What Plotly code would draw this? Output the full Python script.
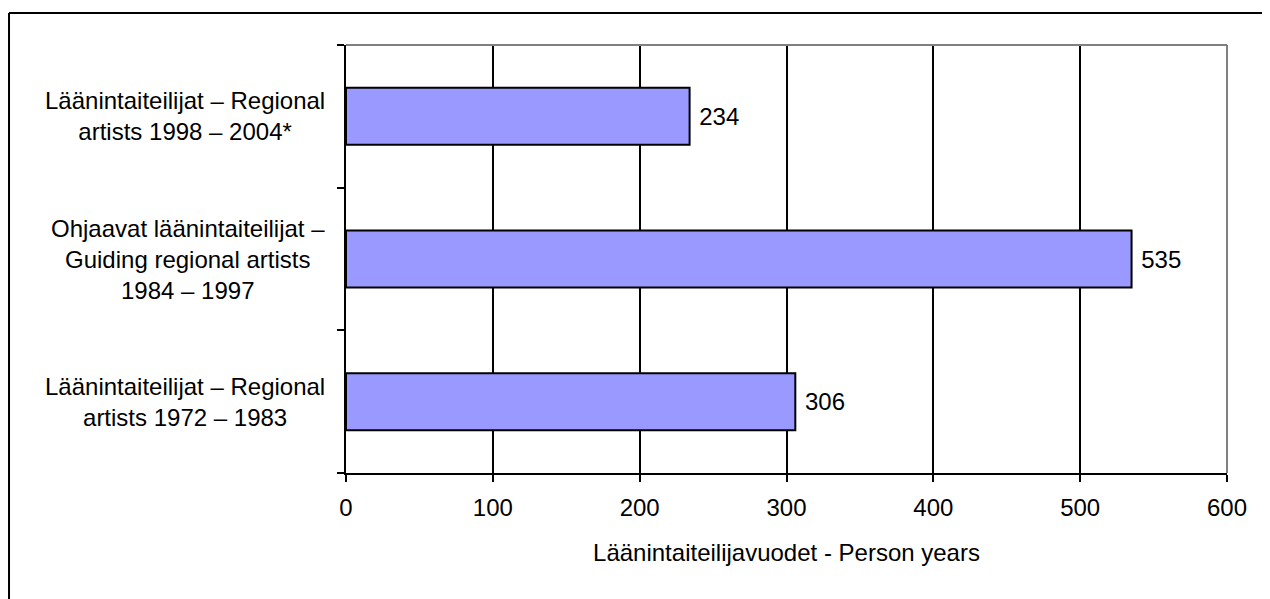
import plotly.graph_objects as go

# Kategoriat alhaalta ylös
kaudet = [
    "Läänintaiteilijat – Regional<br>artists 1972 – 1983",
    "Ohjaavat läänintaiteilijat –<br>Guiding regional artists<br>1984 – 1997",
    "Läänintaiteilijat – Regional<br>artists 1998 – 2004*",
]
henkilovuodet = [306, 535, 234]
x_ticks = [0, 100, 200, 300, 400, 500, 600]

FONT = "Liberation Sans, Arial, sans-serif"
KOKO = 24

fig = go.Figure()

fig.add_trace(go.Bar(
    x=henkilovuodet,
    y=kaudet,
    orientation='h',
    width=0.4,
    marker=dict(color='#9999FF', line=dict(color='black', width=2)),
    text=[f' {v}' for v in henkilovuodet],
    textposition='outside',
    textfont=dict(family=FONT, size=KOKO, color='black'),
    cliponaxis=False,
    showlegend=False,
))

# Kategorianimet keskitettyinä annotaatioina
for k in kaudet:
    fig.add_annotation(
        x=-0.0216, xref='paper', y=k, yref='y',
        text=k, showarrow=False,
        xanchor='right', yanchor='middle', align='center',
        font=dict(family=FONT, size=KOKO, color='black'),
    )

# Harmaa ylä- ja oikea reuna
fig.add_shape(type='line', xref='paper', yref='paper', x0=0, x1=1, y0=1, y1=1,
              line=dict(color='#808080', width=2), layer='above')
fig.add_shape(type='line', xref='paper', yref='paper', x0=1, x1=1, y0=0, y1=1,
              line=dict(color='#808080', width=2), layer='above')
# Ulkokehyksen näkyvät reunat (ylä ja vasen)
fig.add_shape(type='line', xref='paper', yref='paper',
              x0=-0.3825, x1=1.5, y0=1.0748, y1=1.0748,
              line=dict(color='black', width=2))
fig.add_shape(type='line', xref='paper', yref='paper',
              x0=-0.3825, x1=-0.3825, y0=-1.0, y1=1.0748,
              line=dict(color='black', width=2))

fig.update_layout(
    width=1262,
    height=591,
    margin=dict(l=338, r=43, t=37, b=126),
    plot_bgcolor='white',
    paper_bgcolor='white',
    font=dict(family=FONT, size=KOKO, color='black'),
    bargap=0.6,
    xaxis=dict(
        range=[0, 600],
        tickvals=x_ticks,
        showgrid=True,
        gridcolor='black',
        gridwidth=2,
        zeroline=False,
        showline=True,
        linecolor='black',
        linewidth=2,
        ticks='outside',
        ticklen=7,
        tickwidth=2,
        tickcolor='black',
        ticklabelstandoff=5,
        tickfont=dict(family=FONT, size=KOKO),
        title=dict(text='Läänintaiteilijavuodet - Person years',
                   font=dict(family=FONT, size=KOKO), standoff=24),
    ),
    yaxis=dict(
        categoryorder='array',
        categoryarray=kaudet,
        showticklabels=False,
        tickson='boundaries',
        ticks='outside',
        ticklen=7,
        tickwidth=2,
        tickcolor='black',
        showgrid=False,
        showline=True,
        linecolor='black',
        linewidth=2,
        zeroline=False,
    ),
)

fig.write_html("out.html")
